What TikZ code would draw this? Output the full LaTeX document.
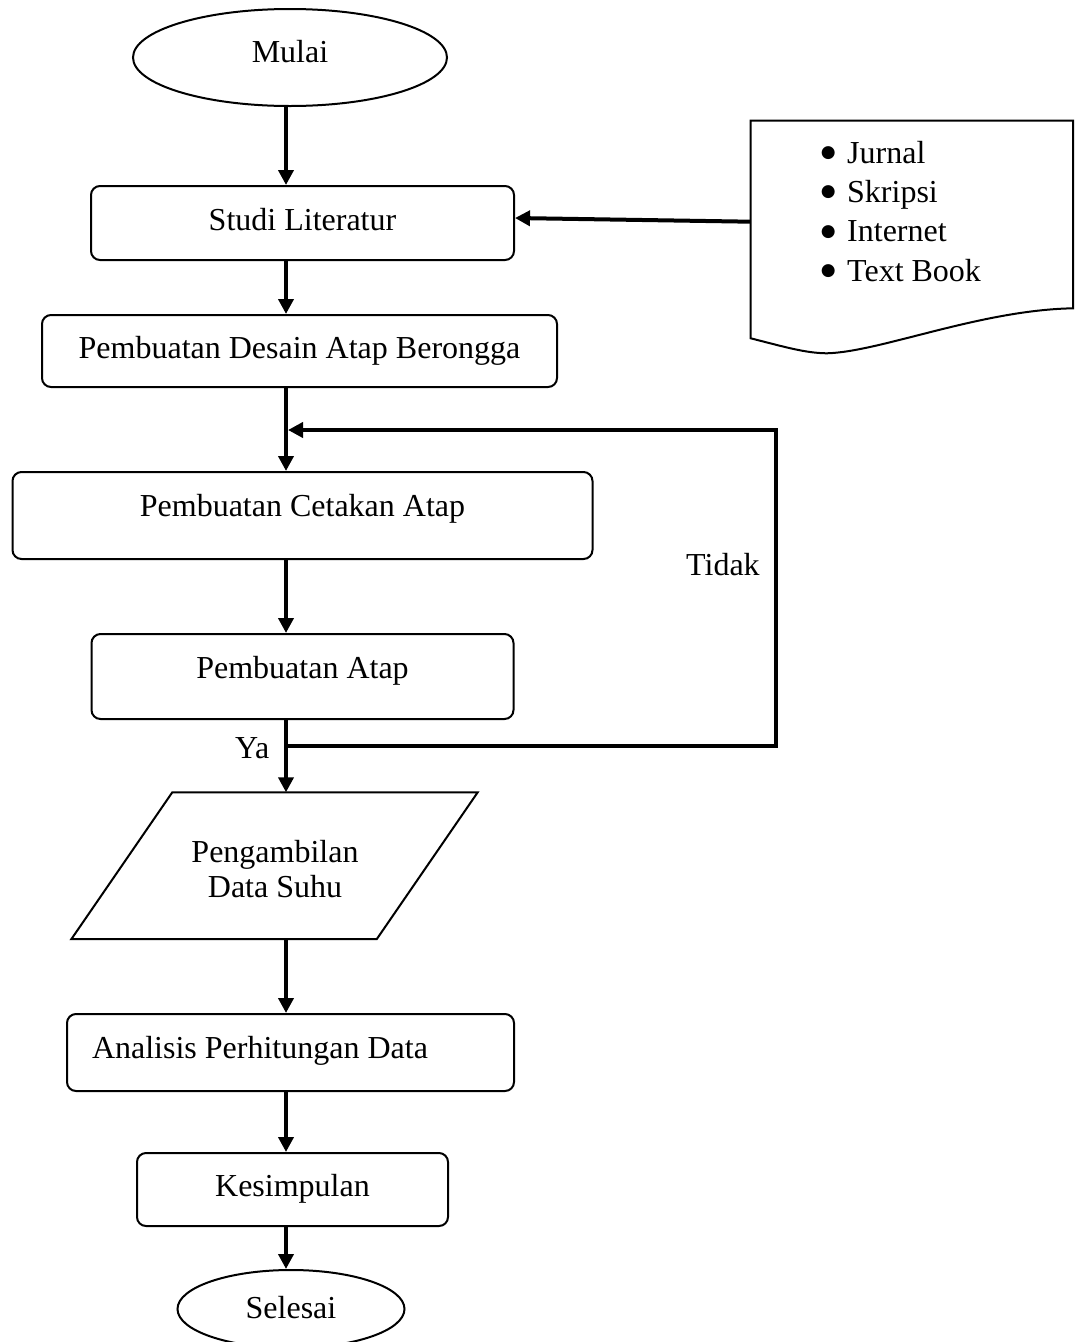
\documentclass[tikz,border=0pt]{standalone}
\usepackage{fontspec}
\setmainfont{Liberation Serif}
\newfontfamily\symfont{DejaVu Sans}
\usetikzlibrary{arrows.meta,shapes.geometric}
\newcommand{\bigbul}{\makebox[0pt][c]{\raisebox{5.5pt}{\symfont\fontsize{17}{17}\selectfont ●}}\hspace{19pt}}
\tikzset{
  procbox/.style={draw, line width=2pt, rounded corners=9pt, inner sep=0pt, text height=22pt},
  termnode/.style={draw, ellipse, line width=2pt, inner sep=0pt, text height=22pt},
  conn/.style={line width=4pt, -{Triangle[length=15pt,width=15pt]}},
  txt/.style={inner sep=0pt, anchor=base west},
  shapeline/.style={line width=2pt},
}
\begin{document}
\begin{tikzpicture}[x=1pt,y=-1pt,font=\fontsize{32}{36}\selectfont]
\useasboundingbox (0,0) rectangle (1075,1342);
\coordinate (spine) at (286,0);

% terminals and process boxes
\node[termnode, minimum width=314pt, minimum height=97pt, text depth=12pt] (mulai) at (290,57.5) {Mulai};
\node[procbox, minimum width=423pt, minimum height=74pt, text depth=8pt] (studi) at (302.5,223) {Studi Literatur};
\node[procbox, minimum width=515pt, minimum height=72pt, text depth=8pt] (desain) at (299.5,351) {Pembuatan Desain Atap Berongga};
\node[procbox, minimum width=580pt, minimum height=87pt, text depth=20pt] (cetak) at (302.5,515.5) {Pembuatan Cetakan Atap};
\node[procbox, minimum width=422pt, minimum height=85pt, text depth=19pt] (atap) at (302.5,676.5) {Pembuatan Atap};
\node[procbox, minimum width=447pt, minimum height=77pt, text depth=11pt] (analisis) at (290.5,1052.5) {\makebox[397pt][l]{Analisis Perhitungan Data}};
\node[procbox, minimum width=311pt, minimum height=73pt, text depth=8pt] (kesimpulan) at (292.5,1189.5) {Kesimpulan};
\node[termnode, minimum width=227pt, minimum height=78pt, text depth=4pt] (selesai) at (291,1309) {Selesai};

% data (parallelogram)
\node[inner sep=0pt, minimum width=305pt, minimum height=146.5pt] (data) at (274.5,865.75) {};
\draw[shapeline] ([xshift=50.5pt]data.north west) -- ([xshift=50.5pt]data.north east)
  -- ([xshift=-50.5pt]data.south east) -- ([xshift=-50.5pt]data.south west) -- cycle;
\node[inner sep=0pt, anchor=base] (data1) at (275,862) {Pengambilan};
\node[inner sep=0pt, anchor=base] (data2) at (275,897.6) {Data Suhu};

% document (sources)
\draw[shapeline] (750.7,120.7) -- (1073,120.7) -- (1073,308.3)
  .. controls (980,310) and (880,352) .. (826.7,353.3)
  .. controls (805,353) and (785,347) .. (750.7,338.3) -- cycle;
\coordinate (docL) at (750.7,221.7);
\node[txt] (l1) at (828,163) {\bigbul Jurnal};
\node[txt] (l2) at (828,202) {\bigbul Skripsi};
\node[txt] (l3) at (828,241.5) {\bigbul Internet};
\node[txt] (l4) at (828,281) {\bigbul Text Book};

% connectors
\draw[conn] (mulai.south -| spine) -- (studi.north -| spine);
\draw[conn] (docL) -- ([yshift=5pt]studi.east);
\draw[conn] (studi.south -| spine) -- (desain.north -| spine);
\draw[conn] (desain.south -| spine) -- (cetak.north -| spine);
\draw[conn] (cetak.south -| spine) -- (atap.north -| spine);
\draw[conn] (atap.south -| spine) -- (data.north -| spine);
\draw[conn] (data.south -| spine) -- (analisis.north -| spine);
\draw[conn] (analisis.south -| spine) -- (kesimpulan.north -| spine);
\draw[conn] (kesimpulan.south -| spine) -- (selesai.north -| spine);

% loop back
\coordinate (ya) at (286,746);
\coordinate (loopBR) at (776,746);
\coordinate (loopTR) at (776,430);
\coordinate (loopTL) at (288,430);
\draw[conn] (ya) -- (loopBR) -- (loopTR) -- (loopTL);
\node[txt] (tidak) at (686,575) {Tidak};
\node[txt] (yalabel) at (235,758) {Ya};
\end{tikzpicture}
\end{document}
